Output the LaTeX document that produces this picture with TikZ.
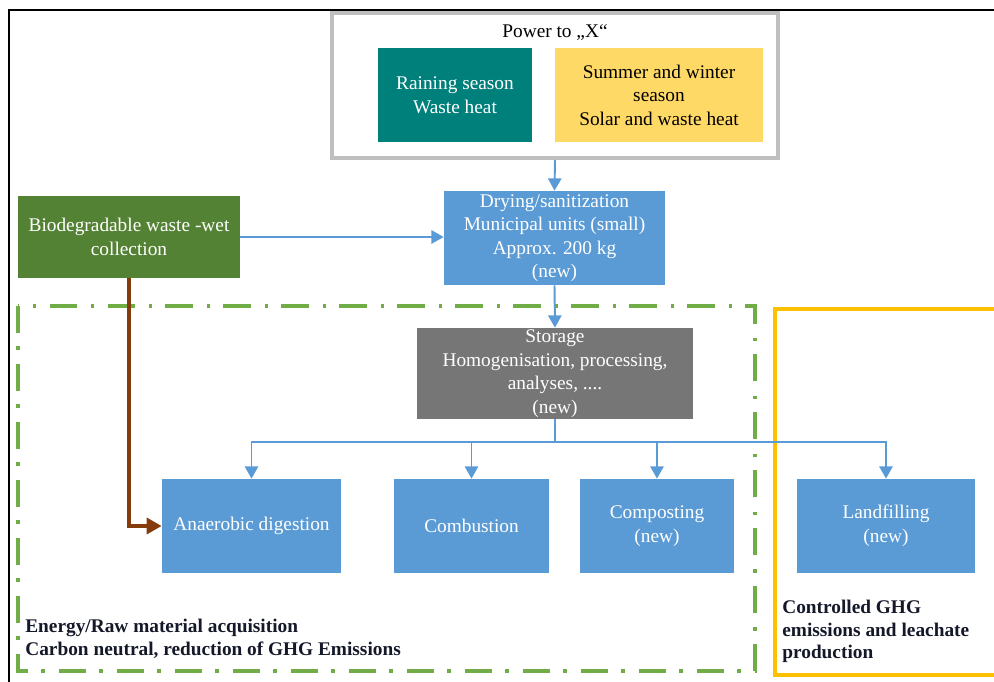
\documentclass[tikz,border=0pt]{standalone}
\usepackage{fontspec}
\setmainfont{Liberation Serif}
\usepackage{tikz}
\usetikzlibrary{arrows.meta}
\definecolor{boxblue}{RGB}{91,155,213}
\definecolor{boxteal}{RGB}{0,128,122}
\definecolor{boxyellow}{RGB}{255,217,102}
\definecolor{boxgreen}{RGB}{84,130,53}
\definecolor{boxgray}{RGB}{118,118,118}
\definecolor{framegray}{RGB}{191,191,191}
\definecolor{framegreen}{RGB}{112,173,71}
\definecolor{frameorange}{RGB}{255,192,0}
\definecolor{arrowbrown}{RGB}{132,60,12}
\definecolor{labelink}{RGB}{20,24,40}

\begin{document}
\begin{tikzpicture}[x=0.02cm,y=-0.02cm]
		\tikzstyle{block}=[rectangle,align=center,inner sep=0pt,text=white,font=\fontsize{11}{13.4}\selectfont]
		\tikzstyle{flow}=[draw=boxblue,line width=1.1pt,-{Triangle[length=7pt,width=7.6pt]}]
		\tikzstyle{note}=[align=left,anchor=west,inner sep=0pt,text=labelink,font=\bfseries\fontsize{11}{13}\selectfont]

		\useasboundingbox (0,0) rectangle (994,682);
		\draw[black,line width=1.2pt] (9,700) -- (9,10) -- (1010,10);

		\draw[framegreen,line width=2pt,dash pattern=on 15.5pt off 7.5pt on 2pt off 8pt] (18,306) rectangle (755,671);
		\draw[frameorange,line width=2.2pt] (1010,309) -- (775,309) -- (775,675) -- (1010,675);

		\node[draw=framegray,line width=2.2pt,minimum width=8.92cm,minimum height=2.9cm] (power) at (555,85.5) {};
		\node[font=\fontsize{11}{13.4}\selectfont,inner sep=0pt] (ptitle) at (555,33) {Power to „X“};
		\node[block,fill=boxteal,minimum width=3.08cm,minimum height=1.88cm] (rain) at (455,95) {Raining season\\Waste heat};
		\node[block,fill=boxyellow,text=black,minimum width=4.16cm,minimum height=1.88cm] (summer) at (659,95) {Summer and winter\\season\\Solar and waste heat};

		\node[block,fill=boxgreen,minimum width=4.44cm,minimum height=1.64cm] (bio) at (129,237) {Biodegradable waste -wet\\collection};
		\node[block,fill=boxblue,minimum width=4.42cm,minimum height=1.88cm] (dry) at (554.5,238) {Drying/sanitization\\Municipal units (small)\\Approx. 200 kg\\(new)};
		\node[block,fill=boxgray,minimum width=5.52cm,minimum height=1.82cm] (store) at (555,373.5) {Storage\\Homogenisation, processing,\\analyses, ....\\(new)};

		\node[block,fill=boxblue,minimum width=3.58cm,minimum height=1.88cm] (anaer) at (251.5,526) {Anaerobic digestion};
		\node[block,fill=boxblue,minimum width=3.1cm,minimum height=1.88cm] (comb) at (471.5,526) {Combustion};
		\node[block,fill=boxblue,minimum width=3.08cm,minimum height=1.88cm] (comp) at (657,526) {Composting\\(new)};
		\node[block,fill=boxblue,minimum width=3.58cm,minimum height=1.88cm] (land) at (886,526) {Landfilling\\(new)};

		\node[note] (energy) at (25,639) {Energy/Raw material acquisition\\Carbon neutral, reduction of GHG Emissions};
		\node[note] (ghg) at (782,631.5) {Controlled GHG\\emissions and leachate\\production};

		\draw[flow] (power.south) -- (dry.north);
		\draw[flow] (bio.east) -- (bio.east -| dry.west);
		\draw[flow] (dry.south) -- (store.north);
		\coordinate (fork) at (555,442);
		\draw[draw=boxblue,line width=1.1pt] (store.south) -- (fork);
		\foreach \target in {anaer,comb,comp,land}
			\draw[flow] (fork) -| (\target.north);
		\draw[draw=arrowbrown,line width=2.2pt,-{Triangle[length=8.5pt,width=9pt]}] (bio.south) |- (anaer.west);

\end{tikzpicture}
\end{document}
